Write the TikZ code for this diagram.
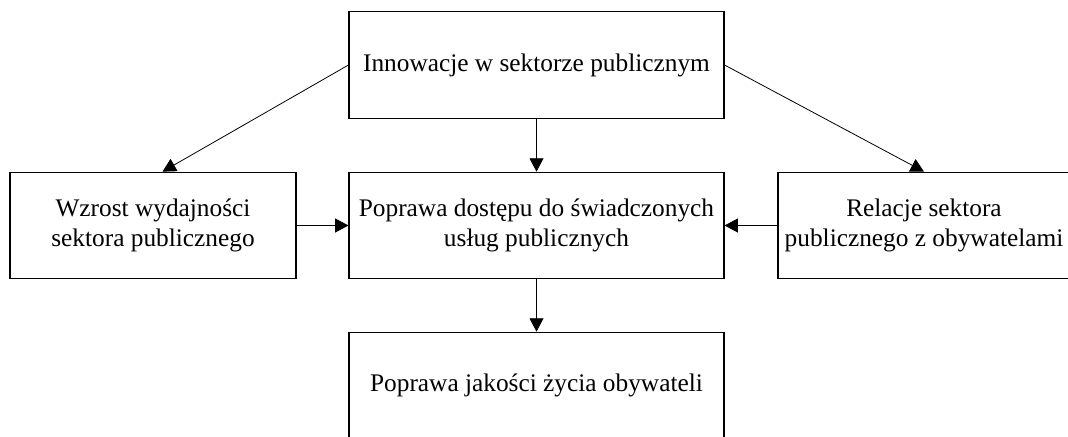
\documentclass[tikz,border=0pt]{standalone}
\usepackage{fontspec}
\setmainfont{Liberation Serif}
\usetikzlibrary{arrows.meta}
\begin{document}
\begin{tikzpicture}[x=0.75pt,y=-0.75pt,
  box/.style={draw, line width=0.8pt, inner sep=2pt, align=center,
    minimum height=80pt, font=\fontsize{19}{22.5}\selectfont},
  wide/.style={box, minimum width=281.25pt},
  link/.style={-{Triangle[length=10pt,width=10.5pt]}, line width=0.6pt}]
\useasboundingbox (0,0) rectangle (1068,436);
\clip (0,0) rectangle (1068,436);

% boxes
\node[wide] (top) at (536.5,65) {Innowacje w sektorze publicznym};
\node[box, minimum width=214.5pt] (left) at (153,225.5) {Wzrost wydajności\\sektora publicznego};
\node[wide] (mid) at (536.5,225.5) {Poprawa dostępu do świadczonych\\usług publicznych};
\node[box, minimum width=219pt] (right) at (924,225.5) {Relacje sektora\\publicznego z obywatelami};
\node[wide] (bot) at (536.5,385.5) {Poprawa jakości życia obywateli};

% connectors
\draw[link] (top.west) -- (left.80);
\draw[link] (top.south) -- (mid.north);
\draw[link] (top.east) -- (right.north);
\draw[link] (left.east) -- (mid.west);
\draw[link] (right.west) -- (mid.east);
\draw[link] (mid.south) -- (bot.north);
\end{tikzpicture}
\end{document}
